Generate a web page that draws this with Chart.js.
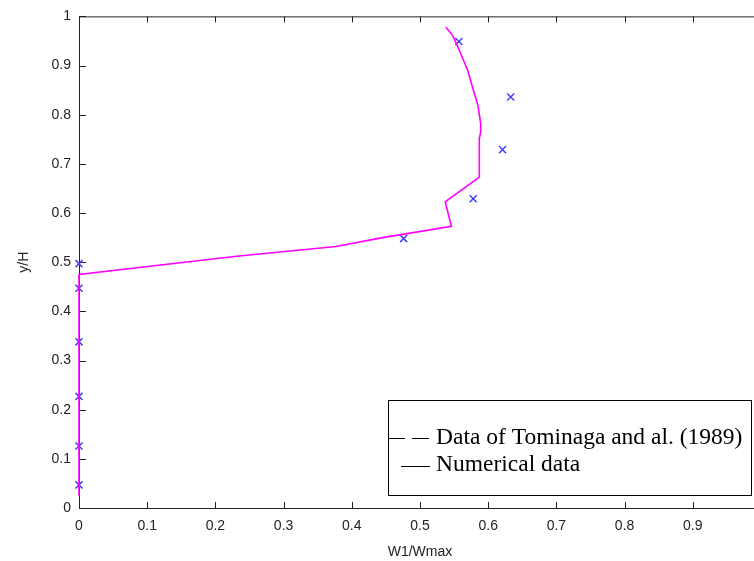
<!DOCTYPE html>
<html>
<head>
<meta charset="utf-8">
<script src="https://cdn.jsdelivr.net/npm/chart.js@4/dist/chart.umd.min.js"></script>
<style>
    html, body { margin:0; padding:0; overflow:hidden; background:#fff; }
    #wrap { width:790px; height:561px; }
</style>
</head>
<body>
<div id="wrap"><canvas id="profileChart" width="790" height="561"></canvas></div>
<script>
// numerical profile of W1/Wmax against y/H
const numX = [0, 0, 0.231, 0.377, 0.441, 0.546, 0.537, 0.587, 0.587, 0.589, 0.589, 0.585, 0.577, 0.570, 0.558, 0.548, 0.538]
const numY = [0.025, 0.475, 0.512, 0.532, 0.549, 0.573, 0.623, 0.673, 0.752, 0.765, 0.782, 0.819, 0.856, 0.890, 0.930, 0.961, 0.978]
// measured points, Tominaga and al. (1989)
const expX = [0, 0, 0, 0, 0, 0, 0.476, 0.578, 0.621, 0.633, 0.557]
const expY = [0.047, 0.126, 0.227, 0.338, 0.447, 0.497, 0.548, 0.629, 0.729, 0.836, 0.949]
const xTicks = [0, 0.1, 0.2, 0.3, 0.4, 0.5, 0.6, 0.7, 0.8, 0.9, 1]
const yTicks = [0, 0.1, 0.2, 0.3, 0.4, 0.5, 0.6, 0.7, 0.8, 0.9, 1]
const legendLabels = ['Data of Tominaga and al. (1989)', 'Numerical data']

const axisColor = '#222'
const tickFont = { family: 'Liberation Sans', size: 14 }

// matlab style box: full frame with ticks pointing inwards, drawn under the data
const boxTicks = {
    id: 'boxTicks',
    beforeDatasetsDraw(chart) {
        let ctx = chart.ctx
        let a = chart.chartArea
        let x = chart.scales.x, y = chart.scales.y
        ctx.save()
        ctx.strokeStyle = axisColor
        ctx.lineWidth = 1
        ctx.beginPath()
        ctx.rect(a.left + 0.5, a.top + 0.5, a.right - a.left, a.bottom - a.top)
        xTicks.forEach(function (v) {
            let px = Math.round(x.getPixelForValue(v)) + 0.5
            ctx.moveTo(px, a.bottom); ctx.lineTo(px, a.bottom - 6)
            ctx.moveTo(px, a.top); ctx.lineTo(px, a.top + 6)
        })
        yTicks.forEach(function (v) {
            let py = Math.round(y.getPixelForValue(v)) + 0.5
            ctx.moveTo(a.left, py); ctx.lineTo(a.left + 7, py)
            ctx.moveTo(a.right, py); ctx.lineTo(a.right - 7, py)
        })
        ctx.stroke()
        ctx.restore()
    }
}

// legend box inside the axes, black samples like the original figure
const boxLegend = {
    id: 'boxLegend',
    afterDraw(chart) {
        let ctx = chart.ctx
        let left = 388, top = 400, w = 363, h = 95
        ctx.save()
        ctx.fillStyle = '#fff'
        ctx.fillRect(left, top, w, h)
        ctx.strokeStyle = '#000'
        ctx.lineWidth = 1
        ctx.strokeRect(left + 0.5, top + 0.5, w, h)
        ctx.beginPath()
        ctx.setLineDash([17, 7])
        ctx.moveTo(left, 438.5); ctx.lineTo(430, 438.5)
        ctx.stroke()
        ctx.setLineDash([])
        ctx.beginPath()
        ctx.moveTo(401, 466.5); ctx.lineTo(430, 466.5)
        ctx.stroke()
        ctx.fillStyle = '#000'
        ctx.font = '23.5px "Liberation Serif"'
        ctx.textBaseline = 'middle'
        ctx.fillText(legendLabels[0], 436, 438)
        ctx.fillText(legendLabels[1], 436, 465)
        ctx.restore()
    }
}

var profileChart = new Chart(document.getElementById('profileChart'), {
    type: 'scatter',
    data: {
        datasets: [{
            label: legendLabels[1],
            data: numX.map(function (v, i) { return { x: v, y: numY[i] } }),
            showLine: true,
            borderColor: '#ff00ff',
            borderWidth: 1.6,
            pointRadius: 0,
            tension: 0,
            clip: false
        }, {
            label: legendLabels[0],
            data: expX.map(function (v, i) { return { x: v, y: expY[i] } }),
            showLine: false,
            pointStyle: 'crossRot',
            pointRadius: 5,
            borderColor: '#4040f4',
            borderWidth: 1.5,
            clip: false
        }]
    },
    options: {
        responsive: false,
        animation: false,
        layout: { padding: { top: 14, right: 29, left: 0, bottom: 0 } },
        plugins: { legend: { display: false }, tooltip: { enabled: false } },
        scales: {
            x: {
                type: 'linear', min: 0, max: 1,
                afterFit: function (s) { s.height = 53 },
                afterBuildTicks: function (s) { s.ticks = xTicks.map(function (v) { return { value: v } }) },
                grid: { display: false, drawTicks: false },
                border: { display: false },
                ticks: { color: axisColor, font: tickFont, padding: 10, maxRotation: 0,
                    callback: function (v) { return String(v) } },
                title: { display: true, text: 'W1/Wmax', color: axisColor, font: tickFont, padding: 0 }
            },
            y: {
                type: 'linear', min: 0, max: 1,
                afterFit: function (s) { s.width = 79 },
                afterBuildTicks: function (s) { s.ticks = yTicks.map(function (v) { return { value: v } }) },
                grid: { display: false, drawTicks: false },
                border: { display: false },
                ticks: { color: axisColor, font: tickFont, padding: 8,
                    callback: function (v) { return String(v) } },
                title: { display: true, text: 'y/H', color: axisColor, font: tickFont, padding: { top: 16, bottom: 0 } }
            }
        }
    },
    plugins: [boxTicks, boxLegend]
})
</script>
</body>
</html>
